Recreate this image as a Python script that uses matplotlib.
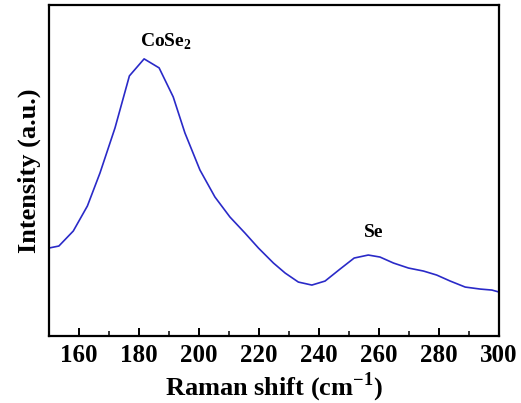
import matplotlib.pyplot as plt
from matplotlib.ticker import MultipleLocator

# Raman spectrum
shift = [150, 153.3, 158.1, 162.8, 167, 172, 176.8, 181.7, 186.7, 191.4,
         195.3, 200.3, 205.3, 210.3, 215.3, 219.8, 224.8, 228.7, 233.1, 237.6,
         242, 247, 251.7, 256.4, 260.3, 264.8, 269.8, 274.8, 279.2, 283.7,
         288.7, 293.7, 297.6, 300]
intensity = [88, 90, 105, 130, 163, 208, 260, 277, 268, 239,
             203, 166, 139, 119, 103, 88, 73, 63, 54, 51,
             55, 67, 78, 81, 79, 73, 68, 65, 61, 55,
             49, 47, 46, 44]

peak_labels = ['CoSe$_\\mathbf{2}$', 'Se']
peak_pos = [189, 258.3]
peak_height = [289, 99]

plt.rcParams['font.family'] = ['Liberation Serif', 'DejaVu Serif']
plt.rcParams['font.weight'] = 'bold'
plt.rcParams['mathtext.fontset'] = 'custom'
plt.rcParams['mathtext.rm'] = 'Liberation Serif'
plt.rcParams['mathtext.bf'] = 'Liberation Serif:bold'

fig = plt.figure(figsize=(5.21, 4.03), dpi=100)
ax = fig.add_axes([0.094, 0.166, 0.864, 0.822])

ax.plot(shift, intensity, color='#2a2ac8', lw=1.2)

for lab, x, y in zip(peak_labels, peak_pos, peak_height):
    ax.text(x, y, lab, ha='center', va='baseline', fontsize=14, fontweight='bold')

ax.set_xlim(150, 300)
ax.set_ylim(0, 331)
ax.xaxis.set_major_locator(MultipleLocator(20))
ax.xaxis.set_minor_locator(MultipleLocator(10))
ax.set_yticks([])
ax.tick_params(axis='x', which='major', direction='in', length=6, width=1.4,
               labelsize=18, pad=6)
ax.tick_params(axis='x', which='minor', direction='in', length=3.5, width=1.1)
for s in ax.spines.values():
    s.set_linewidth(1.6)

ax.set_xlabel('Raman shift (cm$^\\mathbf{-1}$)', fontsize=19, fontweight='bold', labelpad=2)
ax.set_ylabel('Intensity (a.u.)', fontsize=19, fontweight='bold', labelpad=6)

fig.savefig('out.png', dpi=100)
